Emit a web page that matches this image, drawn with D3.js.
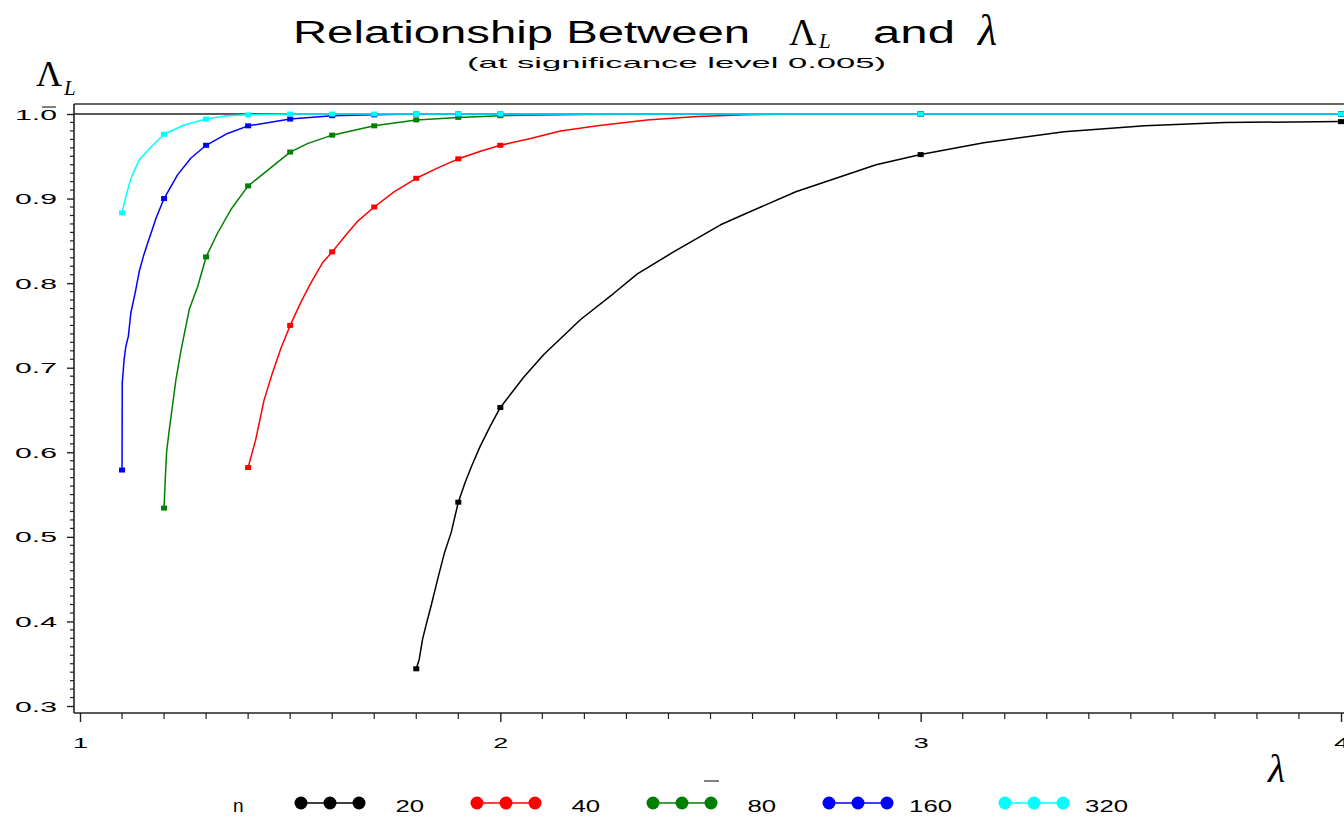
<!DOCTYPE html>
<html>
<head>
<meta charset="utf-8">
<script src="https://cdn.jsdelivr.net/npm/d3@7"></script>
<style>
html,body{margin:0;padding:0;background:#fff;}
svg{display:block;}
</style>
</head>
<body>
<svg id="chart" width="1344" height="818"></svg>
<script>
// ---------------- data ----------------
const seriesNames = ["20", "40", "80", "160", "320"];
const seriesColors = ["#000000", "#ff0000", "#008000", "#0000ff", "#00ffff"];

// lambda values where the plotted markers sit
const markerLambda = [1.1, 1.2, 1.3, 1.4, 1.5, 1.6, 1.7, 1.8, 1.9, 2.0, 3.0, 4.0];

// marker values per series (null = not plotted)
const markers20  = [null, null, null, null, null, null, null, 0.344, 0.541, 0.653, 0.952, 0.991];
const markers40  = [null, null, null, 0.582, 0.750, 0.837, 0.890, 0.924, 0.947, 0.963, 1.000, 1.000];
const markers80  = [null, 0.534, 0.831, 0.915, 0.955, 0.975, 0.986, 0.993, 0.996, 0.998, 1.000, 1.000];
const markers160 = [0.579, 0.900, 0.963, 0.986, 0.994, 0.998, 0.999, 1.000, 1.000, 1.000, 1.000, 1.000];
const markers320 = [0.883, 0.976, 0.994, 0.999, 1.000, 1.000, 1.000, 1.000, 1.000, 1.000, 1.000, 1.000];

// intermediate curve points [lambda, value]
const curve20 = [[1.807,0.355],[1.815,0.379],[1.823,0.395],[1.835,0.418],[1.847,0.442],[1.855,0.458],
  [1.867,0.481],[1.883,0.505],[1.916,0.564],[1.932,0.584],[1.952,0.607],[1.976,0.631],
  [2.056,0.689],[2.104,0.716],[2.191,0.757],[2.270,0.788],[2.326,0.811],[2.409,0.836],[2.524,0.869],
  [2.587,0.883],[2.703,0.908],[2.894,0.940],[3.150,0.966],[3.341,0.979],[3.533,0.986],[3.724,0.990]];
const curve40 = [[1.418,0.615],[1.438,0.662],[1.458,0.694],[1.478,0.723],[1.525,0.777],[1.549,0.800],
  [1.577,0.824],[1.636,0.859],[1.660,0.873],[1.747,0.908],[1.850,0.936],[1.953,0.956],[2.072,0.971],
  [2.143,0.980],[2.231,0.986],[2.349,0.993],[2.468,0.997],[2.587,0.999],[2.700,1.000]];
const curve80 = [[1.203,0.570],[1.206,0.600],[1.212,0.625],[1.220,0.655],[1.228,0.685],[1.240,0.720],
  [1.260,0.769],[1.280,0.796],[1.327,0.859],[1.359,0.887],[1.438,0.930],[1.541,0.965],[2.200,0.9995],[2.400,1.000]];
const curve160 = [[1.1005,0.682],[1.105,0.710],[1.109,0.725],[1.115,0.737],[1.121,0.765],[1.131,0.788],
  [1.141,0.814],[1.151,0.832],[1.162,0.849],[1.169,0.859],[1.181,0.877],[1.232,0.928],[1.264,0.948],[1.351,0.977]];
const curve320 = [[1.109,0.902],[1.115,0.913],[1.123,0.926],[1.141,0.946],[1.169,0.961],[1.248,0.987],[1.350,0.998]];

const xTicks = [1, 2, 3, 4];
const yTicks = [0.3, 0.4, 0.5, 0.6, 0.7, 0.8, 0.9, 1.0];
const yTickLabels = ["0.3", "0.4", "0.5", "0.6", "0.7", "0.8", "0.9", "1.0"];

// ---------------- build ----------------
const markerSets = [markers20, markers40, markers80, markers160, markers320];
const curveSets = [curve20, curve40, curve80, curve160, curve320];

const series = seriesNames.map((name, i) => {
  const m = markerLambda.map((l, j) => [l, markerSets[i][j]]).filter(d => d[1] !== null);
  const all = m.concat(curveSets[i]).sort((a, b) => a[0] - b[0]);
  return {name, color: seriesColors[i], markers: m, line: all};
});

const svg = d3.select("#chart");
const x = d3.scaleLinear().domain([1, 4]).range([80, 1341]);
const y = d3.scaleLinear().domain([0.3, 1.0]).range([706, 114]);

const plotLeft = 74, plotTop = 104, plotBottom = 713, plotRight = 1344;
const SANS = "'Liberation Sans', Arial, sans-serif";
const SERIF = "'Liberation Serif', 'Times New Roman', serif";

// frame
svg.append("line").attr("x1", plotLeft).attr("x2", plotRight).attr("y1", plotTop).attr("y2", plotTop)
  .attr("stroke", "#333").attr("stroke-width", 1.6);

// reference line at 1.0
svg.append("line").attr("x1", plotLeft).attr("x2", plotRight).attr("y1", y(1)).attr("y2", y(1))
  .attr("stroke", "#222").attr("stroke-width", 1.4);

// y axis
const yAxis = d3.axisLeft(y).tickValues(yTicks).tickSize(7).tickFormat("");
const yG = svg.append("g").attr("transform", `translate(${plotLeft},0)`).call(yAxis);
yG.select(".domain").attr("d", `M0,${plotTop}V${plotBottom}`).attr("stroke", "#222").attr("stroke-width", 1.6);
yG.selectAll(".tick line").attr("stroke", "#222").attr("stroke-width", 1.4);
const yMinor = d3.range(30, 101).map(v => v / 100).filter(v => Math.round(v * 100) % 10 !== 0);
svg.append("g").selectAll("line").data(yMinor).join("line")
  .attr("x1", plotLeft - 4).attr("x2", plotLeft).attr("y1", d => y(d)).attr("y2", d => y(d))
  .attr("stroke", "#222").attr("stroke-width", 1.2);
svg.append("g").selectAll("text").data(yTicks).join("text")
  .attr("x", 57).attr("y", d => y(d) + 5.5)
  .attr("text-anchor", "end")
  .attr("font-family", SANS).attr("font-size", 15).attr("fill", "#000")
  .attr("textLength", 42).attr("lengthAdjust", "spacingAndGlyphs")
  .text((d, i) => yTickLabels[i]);
// overline artifact above the 0 of 1.0
svg.append("line").attr("x1", 42).attr("x2", 56).attr("y1", 107).attr("y2", 107)
  .attr("stroke", "#000").attr("stroke-width", 1);

// x axis
const xAxis = d3.axisBottom(x).tickValues(xTicks).tickSize(9).tickFormat("");
const xG = svg.append("g").attr("transform", `translate(0,${plotBottom})`).call(xAxis);
xG.select(".domain").attr("d", `M${plotLeft},0H${plotRight}`).attr("stroke", "#222").attr("stroke-width", 1.6);
xG.selectAll(".tick line").attr("stroke", "#222").attr("stroke-width", 1.4);
const xMinor = d3.range(10, 41).map(v => v / 10).filter(v => Math.round(v * 10) % 10 !== 0);
svg.append("g").selectAll("line").data(xMinor).join("line")
  .attr("x1", d => x(d)).attr("x2", d => x(d)).attr("y1", plotBottom).attr("y2", plotBottom + 6)
  .attr("stroke", "#222").attr("stroke-width", 1.2);
svg.append("g").selectAll("text").data(xTicks).join("text")
  .attr("x", d => x(d) - 7).attr("y", 748)
  .attr("font-family", SANS).attr("font-size", 14).attr("fill", "#000")
  .attr("textLength", 15).attr("lengthAdjust", "spacingAndGlyphs")
  .text(d => d);

// curves
const lineGen = d3.line().x(d => x(d[0])).y(d => y(d[1])).curve(d3.curveLinear);
const gSeries = svg.append("g");
series.forEach(s => {
  gSeries.append("path").datum(s.line).attr("d", lineGen)
    .attr("fill", "none").attr("stroke", s.color).attr("stroke-width", 1.5).attr("stroke-linejoin", "round");
  gSeries.append("g").selectAll("rect").data(s.markers).join("rect")
    .attr("x", d => x(d[0]) - 3).attr("y", d => y(d[1]) - 2.5)
    .attr("width", 6).attr("height", 5).attr("fill", s.color);
});

// titles
svg.append("text").attr("x", 293).attr("y", 43)
  .attr("font-family", SANS).attr("font-size", 31).attr("fill", "#000")
  .attr("textLength", 457).attr("lengthAdjust", "spacingAndGlyphs")
  .text("Relationship Between");
svg.append("text").attr("x", 789).attr("y", 45)
  .attr("font-family", SERIF).attr("font-size", 38).attr("fill", "#000").text("Λ");
svg.append("text").attr("x", 819).attr("y", 48)
  .attr("font-family", SERIF).attr("font-style", "italic").attr("font-size", 21).attr("fill", "#000").text("L");
svg.append("text").attr("x", 873).attr("y", 43)
  .attr("font-family", SANS).attr("font-size", 31).attr("fill", "#000")
  .attr("textLength", 82).attr("lengthAdjust", "spacingAndGlyphs").text("and");
svg.append("text").attr("x", 978).attr("y", 45)
  .attr("font-family", SERIF).attr("font-style", "italic").attr("font-size", 44).attr("fill", "#000").text("λ");
svg.append("text").attr("x", 467).attr("y", 68)
  .attr("font-family", SANS).attr("font-size", 15).attr("fill", "#000")
  .attr("textLength", 419).attr("lengthAdjust", "spacingAndGlyphs")
  .text("(at significance level 0.005)");

// y axis title
svg.append("text").attr("x", 36).attr("y", 86)
  .attr("font-family", SERIF).attr("font-size", 36).attr("fill", "#000").text("Λ");
svg.append("text").attr("x", 64).attr("y", 95)
  .attr("font-family", SERIF).attr("font-style", "italic").attr("font-size", 21).attr("fill", "#000").text("L");

// x axis title
svg.append("text").attr("x", 1268).attr("y", 782)
  .attr("font-family", SERIF).attr("font-style", "italic").attr("font-size", 40).attr("fill", "#000").text("λ");

// legend
const legendY = 803;
svg.append("text").attr("x", 233).attr("y", 812)
  .attr("font-family", SANS).attr("font-size", 19).attr("fill", "#000").text("n");
const legendStart = d3.scaleLinear().domain([0, 1]).range([301, 477]);
series.forEach((s, i) => {
  const x0 = legendStart(i);
  const g = svg.append("g");
  g.append("line").attr("x1", x0).attr("x2", x0 + 58).attr("y1", legendY).attr("y2", legendY)
    .attr("stroke", s.color).attr("stroke-width", 1.5);
  g.selectAll("circle").data([0, 29, 58]).join("circle")
    .attr("cx", d => x0 + d).attr("cy", legendY).attr("r", 6.5).attr("fill", s.color);
  g.append("text").attr("x", x0 + 123).attr("y", 812).attr("text-anchor", "end")
    .attr("font-family", SANS).attr("font-size", 16).attr("fill", "#000")
    .attr("textLength", s.name.length * 14.3).attr("lengthAdjust", "spacingAndGlyphs")
    .text(s.name);
});
// small dash artifact above legend
svg.append("line").attr("x1", 704).attr("x2", 719).attr("y1", 781).attr("y2", 781)
  .attr("stroke", "#000").attr("stroke-width", 1);
</script>
</body>
</html>
